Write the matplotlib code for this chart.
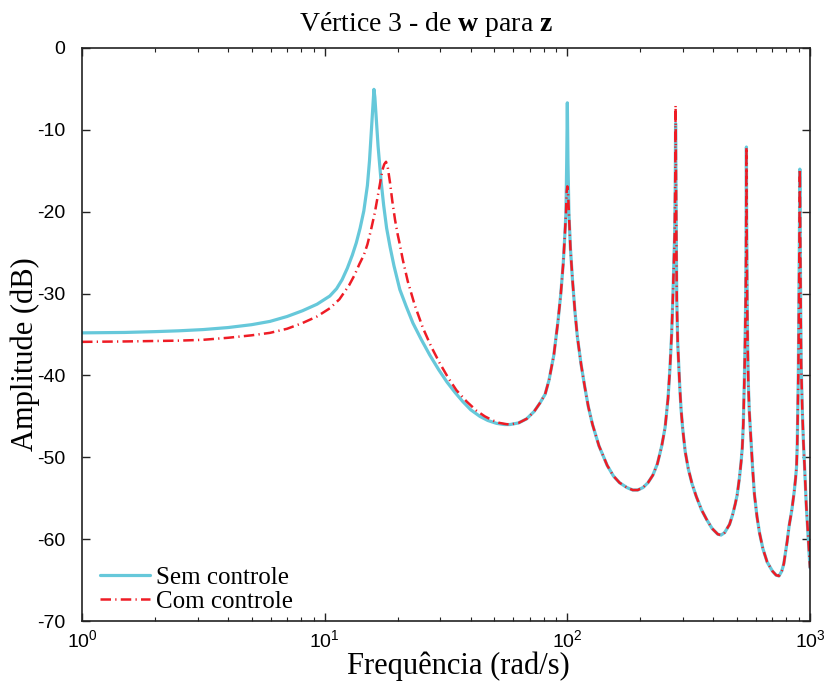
import matplotlib
matplotlib.use("Agg")
import matplotlib.pyplot as plt
from matplotlib.ticker import LogLocator, FixedLocator

# ---- data ----
freq_sem = [1, 1.5, 2, 2.5, 3.15, 4, 5, 5.95, 7, 8.1, 9.3, 10.5, 11.2, 11.8, 12.4, 13.0, 13.5, 14.0, 14.5,
            15.0, 15.3, 15.6, 15.8, 15.96, 16.1, 16.3, 16.6, 17.06, 17.5, 18.0, 18.6, 19.3, 20.4, 21.7, 23.1,
            25, 27.1, 29.5, 31.9, 34.5, 37.1, 40, 43.6, 47, 51, 55, 58, 63, 68, 73, 77, 81, 84, 88, 91.5, 94,
            96.2, 97.6, 98.7, 99.4, 100, 100.6, 101.5, 103, 105, 107.5, 110, 114, 118, 122, 127, 135, 146,
            155, 164, 176, 186, 195, 205, 215, 225, 235, 245, 253, 260, 265, 269, 272, 275, 277, 278.5, 279.3,
            280.3, 281.2, 282.5, 285, 290, 294, 299, 306, 315, 327, 340, 357, 375, 395, 417, 430, 445, 466,
            480, 492, 501, 512, 520, 526, 531, 536, 540, 543, 545, 546, 547, 548, 549.5, 551, 554, 557, 562,
            570, 580, 590, 605, 620, 640, 666, 700, 725, 745, 765, 780, 792, 805, 820, 842, 860, 872, 880,
            886, 890, 895, 900, 904, 908, 912, 916, 920, 930, 940, 950, 965, 980, 990, 1000]
db_sem = [-34.8, -34.75, -34.65, -34.55, -34.4, -34.15, -33.8, -33.4, -32.8, -32.1, -31.3, -30.3, -29.4, -28.3, -26.9, -25.3, -23.8, -22.0, -19.9,
          -16.8, -13.8, -9.8, -7.0, -5.05, -6.0, -8.5, -12.0, -16.1, -19.2, -22.0, -24.3, -26.6, -29.5, -31.6, -33.6,
          -35.6, -37.5, -39.3, -40.8, -42.1, -43.2, -44.2, -45.0, -45.5, -45.85, -46.0, -46.0, -45.8, -45.3, -44.4, -43.4, -42.3, -40.6, -37.5, -33.4, -30.0,
          -26.3, -23.0, -20.1, -14.0, -6.7, -14.0, -20.1, -24.5, -28.3, -32.2, -35.3, -38.7, -41.4, -43.8, -46.0, -48.6, -51.0,
          -52.3, -53.1, -53.7, -54.0, -54.0, -53.7, -53.1, -52.2, -50.8, -48.6, -46.3, -42.8, -38.9, -35.0, -30.8, -26.0, -22.6, -17.0, -9.2,
          -17.0, -23.0, -30.8, -36.0, -40.9, -44.0, -46.6, -49.3, -51.4, -53.3, -54.8, -56.4, -57.6, -58.7, -59.4, -59.5, -59.2, -58.2,
          -57.0, -55.7, -54.6, -52.5, -50.6, -48.8, -46.0, -41.0, -36.0, -31.0, -25.5, -20.0, -12.1, -20.0, -26.0, -31.0, -37.0, -41.0, -44.3,
          -47.5, -51.3, -54.5, -57.3, -59.3, -61.2, -62.8, -63.9, -64.4, -64.5, -63.9, -63.0, -61.7, -60.3, -58.4, -56.4, -54.3, -52.6, -51.2,
          -48.5, -45.0, -40.0, -31.0, -24.0, -14.8, -24.0, -33.0, -38.9, -44.5, -48.3, -51.2, -55.8, -59.2, -61.5, -63.5]

freq_com = [1, 1.5, 2, 2.5, 3.15, 4, 5, 5.95, 7, 8.1, 9.3, 10.5, 11.5, 12.6, 13.3, 13.9, 14.5, 15.0, 15.5,
            16.1, 16.5, 16.9, 17.3, 17.6, 17.9, 18.2, 18.6, 19.0, 19.5, 20.0, 20.4, 21, 22, 23.5, 25.4, 27.5,
            29.8, 32.3, 34.9, 38.5, 42.2, 45.7, 49.3, 52.5, 56, 58, 63, 68, 73, 77, 81, 84, 88, 91.5, 94,
            96.2, 97.6, 98.7, 99.4, 100, 100.6, 101.5, 103, 105, 107.5, 110, 114, 118, 122, 127, 135, 146,
            155, 164, 176, 186, 195, 205, 215, 225, 235, 245, 253, 260, 265, 269, 272, 275, 277, 278.5, 279.3,
            280.3, 281.2, 282.5, 285, 290, 294, 299, 306, 315, 327, 340, 357, 375, 395, 417, 430, 445, 466,
            480, 492, 501, 512, 520, 526, 531, 536, 540, 543, 545, 546, 547, 548, 549.5, 551, 554, 557, 562,
            570, 580, 590, 605, 620, 640, 666, 700, 725, 745, 765, 780, 792, 805, 820, 842, 860, 872, 880,
            886, 890, 895, 900, 904, 908, 912, 916, 920, 930, 940, 950, 965, 980, 990, 1000]
db_com = [-35.9, -35.85, -35.8, -35.75, -35.65, -35.4, -35.1, -34.8, -34.3, -33.6, -32.8, -31.8, -30.7, -29.0, -27.7, -26.4, -25.3, -24.0, -22.3,
          -20.1, -18.3, -16.5, -14.9, -14.2, -13.9, -14.6, -16.5, -18.7, -21.0, -22.8, -24.0, -25.9, -28.5, -31.4, -34.2, -36.5,
          -38.5, -40.3, -41.8, -43.2, -44.3, -45.0, -45.5, -45.8, -45.95, -46.0, -45.8, -45.3, -44.4, -43.4, -42.3, -40.6, -37.5, -33.4, -30.0,
          -26.3, -23.0, -20.1, -17.5, -16.9, -17.5, -20.1, -24.5, -28.3, -32.2, -35.3, -38.7, -41.4, -43.8, -46.0, -48.6, -51.0,
          -52.3, -53.1, -53.7, -54.0, -54.0, -53.7, -53.1, -52.2, -50.8, -48.6, -46.3, -42.8, -38.9, -35.0, -30.8, -26.0, -22.6, -15.0, -7.0,
          -15.0, -23.0, -30.8, -36.0, -40.9, -44.0, -46.6, -49.3, -51.4, -53.3, -54.8, -56.4, -57.6, -58.7, -59.4, -59.5, -59.2, -58.2,
          -57.0, -55.7, -54.6, -52.5, -50.6, -48.8, -46.0, -41.0, -36.0, -31.0, -25.5, -20.0, -12.1, -20.0, -26.0, -31.0, -37.0, -41.0, -44.3,
          -47.5, -51.3, -54.5, -57.3, -59.3, -61.2, -62.8, -63.9, -64.4, -64.5, -63.9, -63.0, -61.7, -60.3, -58.4, -56.4, -54.3, -52.6, -51.2,
          -48.5, -45.0, -40.0, -31.0, -24.0, -14.8, -24.0, -33.0, -38.9, -44.5, -48.3, -51.2, -55.8, -59.2, -61.5, -63.5]

y_ticks = [0, -10, -20, -30, -40, -50, -60, -70]
labels = ["Sem controle", "Com controle"]

# ---- style ----
plt.rcParams['font.family'] = ['Liberation Serif', 'DejaVu Serif']
plt.rcParams['mathtext.fontset'] = 'custom'
plt.rcParams['mathtext.rm'] = 'Liberation Sans'
plt.rcParams['mathtext.bf'] = 'Liberation Serif:bold'
plt.rcParams['axes.unicode_minus'] = False

fig = plt.figure(figsize=(8.26, 6.84), dpi=100)
ax = fig.add_axes([82/826, 1-621/684, (810-82)/826, (621-48)/684])

ax.plot(freq_sem, db_sem, color='#66C8DA', lw=2.3, label=labels[0],
        solid_joinstyle='round', solid_capstyle='round')
ax.plot(freq_com, db_com, color='#EE1C25', lw=1.8, linestyle=(0, (4.2, 1.7, 0.5, 1.7)), label=labels[1])

ax.set_xscale('log')
ax.set_xlim(1, 1000)
ax.set_ylim(-70, 0)
ax.yaxis.set_major_locator(FixedLocator(y_ticks))
ax.xaxis.set_major_locator(LogLocator(base=10, numticks=10))
ax.xaxis.set_minor_locator(LogLocator(base=10, subs=range(2, 10), numticks=20))

ax.tick_params(which='both', direction='in', top=True, right=True, color='#222222')
ax.tick_params(which='major', length=6, width=1.0, labelsize=14, labelfontfamily='Liberation Sans')
ax.tick_params(axis='x', which='major', pad=6)
ax.tick_params(axis='y', which='major', pad=12)
ax.tick_params(which='minor', length=3, width=0.8)
for sp in ax.spines.values():
    sp.set_linewidth(1.2)
    sp.set_color('#222222')

ax.set_title('Vértice 3 - de $\\mathbf{w}$ para $\\mathbf{z}$', fontsize=20, pad=12, x=0.4725)
ax.set_xlabel('Frequência (rad/s)', fontsize=22, labelpad=0)
ax.xaxis.set_label_coords(0.517, -0.053)
ax.xaxis.label.set_va('top')
ax.set_ylabel('Amplitude (dB)', fontsize=22)
ax.yaxis.set_label_coords(-0.058, 0.466)

ax.legend(loc='lower left', bbox_to_anchor=(0.0, -0.016), frameon=False, fontsize=18,
          handlelength=2.0, handletextpad=0.25, labelspacing=0.05, borderaxespad=0.3)

fig.savefig('out.png', dpi=100)
